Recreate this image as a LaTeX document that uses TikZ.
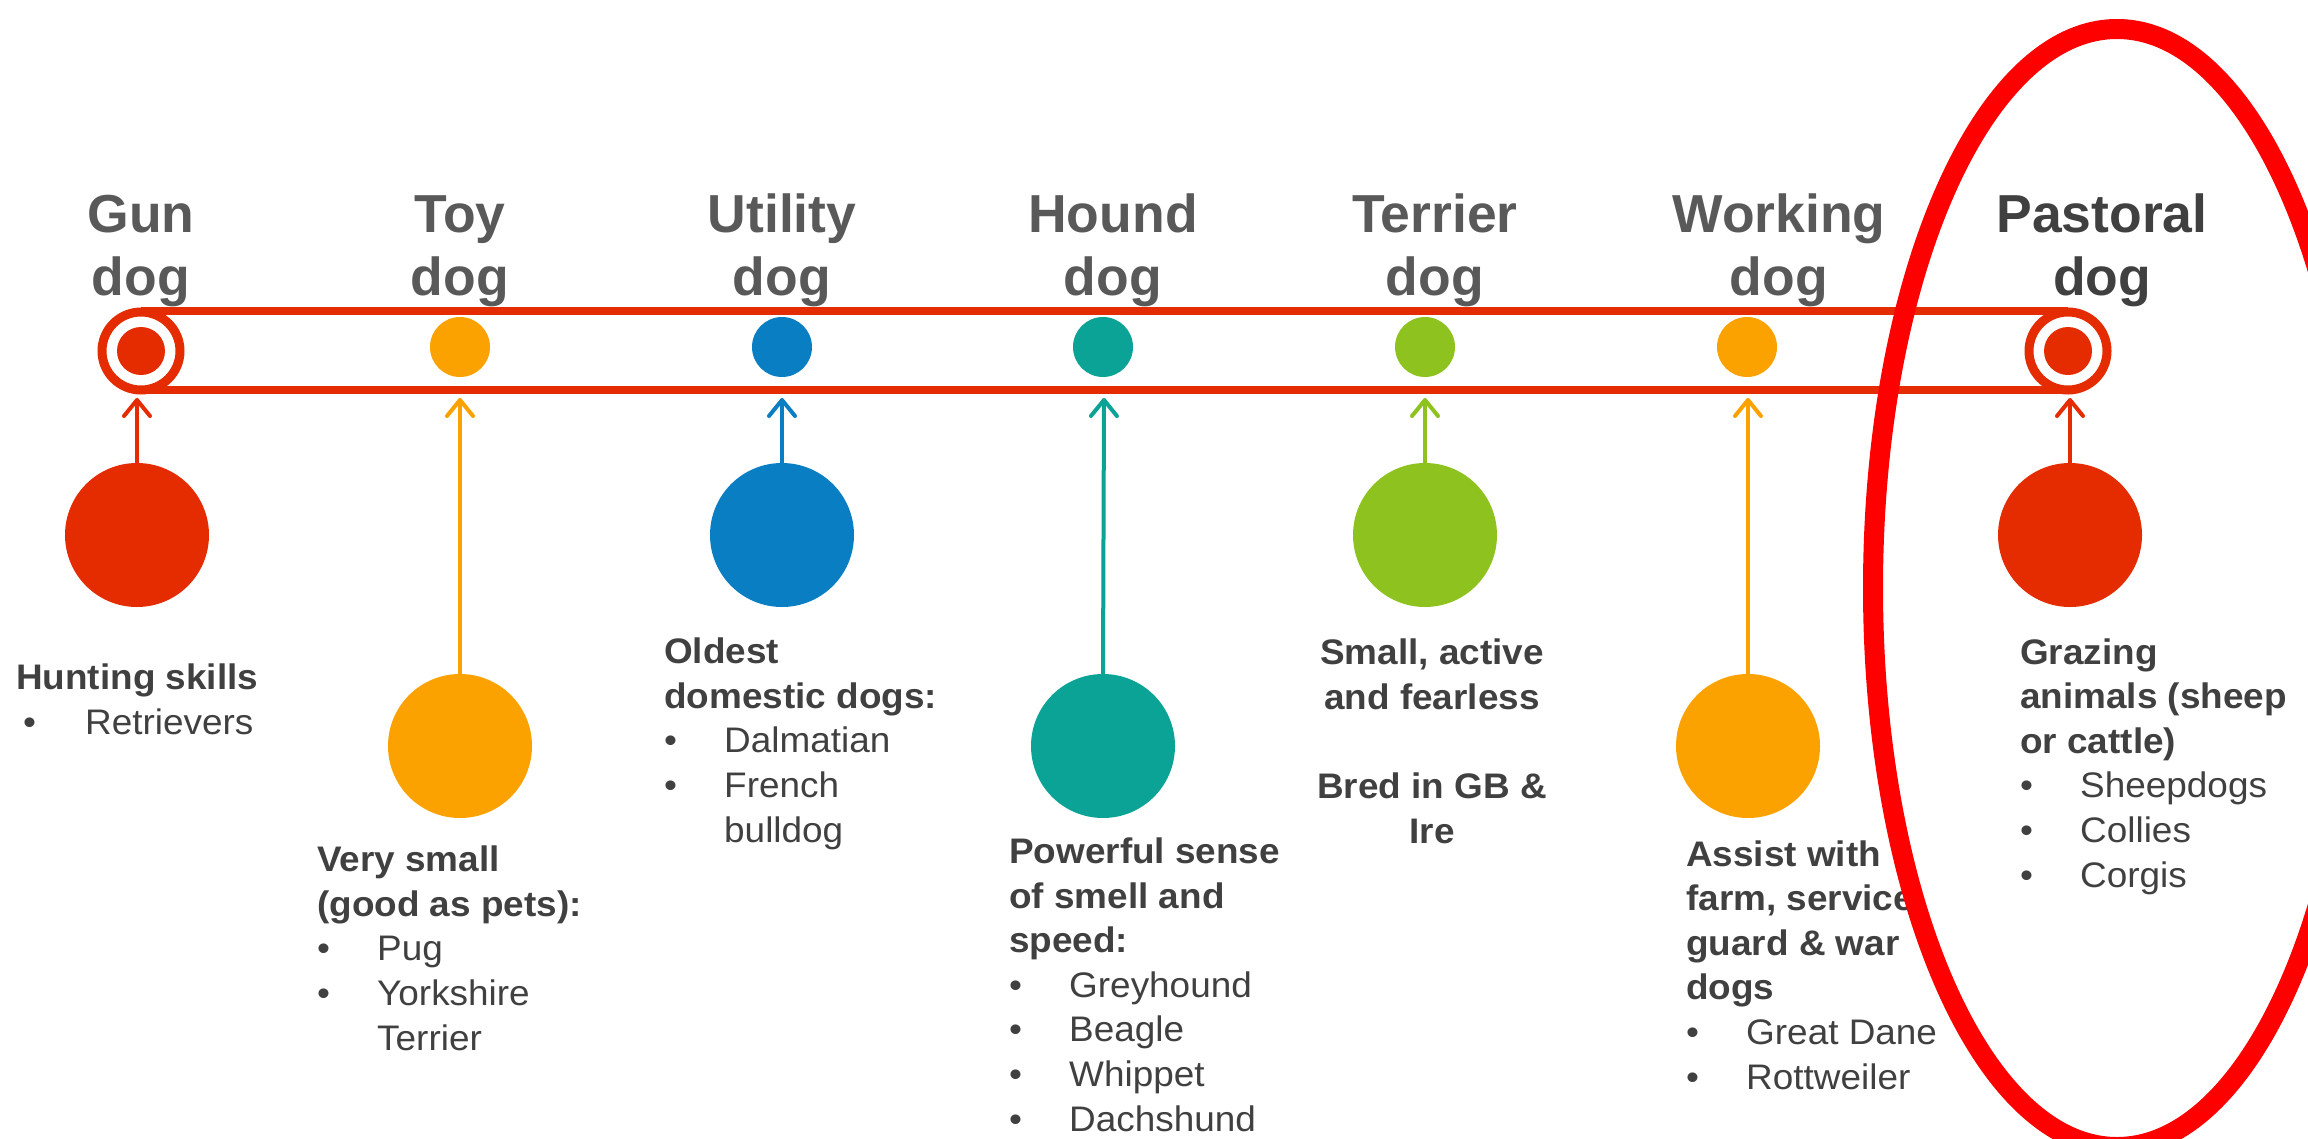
\documentclass[tikz,border=0pt]{standalone}
\usepackage{fontspec}
\setmainfont{Liberation Sans}
\newfontfamily\bodyfont[FakeStretch=1.04]{Liberation Sans}
\usetikzlibrary{arrows.meta}
\definecolor{cRed}{HTML}{E52B00}
\definecolor{cOrange}{HTML}{FBA100}
\definecolor{cBlue}{HTML}{0A7EC2}
\definecolor{cTeal}{HTML}{0AA396}
\definecolor{cGreen}{HTML}{8EC21F}
\definecolor{cHead}{HTML}{595959}
\definecolor{cText}{HTML}{404040}
\definecolor{cOval}{HTML}{FF0000}
\newcommand\bul[1]{\makebox[60pt][l]{•}#1}
\newcommand\cont[1]{\hspace*{60pt}#1}
\begin{document}
\begin{tikzpicture}[x=1pt,y=-1pt,
  head/.style={font=\fontsize{53.5}{63}\selectfont\bfseries, text=cHead, align=center, anchor=base, inner sep=0pt},
  body/.style={font=\bodyfont\fontsize{35.5}{44.6}\selectfont, text=cText, align=left, anchor=base west, inner sep=0pt},
  dot/.style={circle, fill=#1, minimum size=60pt, inner sep=0pt},
  big/.style={circle, fill=#1, minimum size=144pt, inner sep=0pt},
  ring/.style={circle, draw=cRed, line width=9pt, fill=white, minimum size=78pt, inner sep=0pt},
  core/.style={circle, fill=cRed, minimum size=48pt, inner sep=0pt},
  barline/.style={draw=cRed, line width=8pt},
  conn/.style={draw=#1, line width=4pt, line cap=round, -{Straight Barb[length=16pt,width=26pt,line cap=round,line join=round]}},
  oval/.style={draw=cOval, line width=20pt}
]
\useasboundingbox (0,0) rectangle (2308,1138);
\clip (0,0) rectangle (2308,1138);

% headings (anchor = baseline of the last line)
\node[head] (hGun) at (141,295) {Gun\\dog};
\node[head] (hToy) at (460,295) {Toy\\dog};
\node[head] (hUti) at (782,295) {Utility\\dog};
\node[head] (hHou) at (1113,295) {Hound\\dog};
\node[head] (hTer) at (1435,295) {Terrier\\dog};
\node[head] (hWor) at (1779,295) {Working\\dog};
\node[head, text=cText] (hPas) at (2102,295) {Pastoral\\dog};

% bar
\coordinate (barTL) at (141,311);
\coordinate (barTR) at (2068,311);
\coordinate (barBL) at (141,390);
\coordinate (barBR) at (2068,390);
\draw[barline] (barTL) -- (barTR);
\draw[barline] (barBL) -- (barBR);

% top dots
\node[ring] (rGun) at (141,351) {};
\node[core] (dGun) at (141,351) {};
\node[dot=cOrange] (dToy) at (460,347) {};
\node[dot=cBlue] (dUti) at (782,347) {};
\node[dot=cTeal] (dHou) at (1103,347) {};
\node[dot=cGreen] (dTer) at (1425,347) {};
\node[dot=cOrange] (dWor) at (1747,347) {};
\node[ring] (rPas) at (2068,351) {};
\node[core] (dPas) at (2068,351) {};

% big circles
\node[big=cRed] (bGun) at (137,535) {};
\node[big=cOrange] (bToy) at (460,746) {};
\node[big=cBlue] (bUti) at (782,535) {};
\node[big=cTeal] (bHou) at (1103,746) {};
\node[big=cGreen] (bTer) at (1425,535) {};
\node[big=cOrange] (bWor) at (1748,746) {};
\node[big=cRed] (bPas) at (2070,535) {};

% arrow tips
\coordinate (tGun) at (137,398);
\coordinate (tToy) at (460,398);
\coordinate (tUti) at (782,398);
\coordinate (tHou) at (1104,398);
\coordinate (tTer) at (1425,398);
\coordinate (tWor) at (1748,398);
\coordinate (tPas) at (2070,398);
\draw[conn=cRed] (bGun.north) -- (tGun);
\draw[conn=cOrange] (bToy.north) -- (tToy);
\draw[conn=cBlue] (bUti.north) -- (tUti);
\draw[conn=cTeal] (bHou.north) -- (tHou);
\draw[conn=cGreen] (bTer.north) -- (tTer);
\draw[conn=cOrange] (bWor.north) -- (tWor);
\draw[conn=cRed] (bPas.north) -- (tPas);

% texts (anchor = baseline of the last line)
\node[body] (xGun) at (16,734) {\textbf{Hunting skills}\\\hspace*{7pt}\makebox[62pt][l]{•}Retrievers};
\node[body] (xToy) at (317,1050) {\textbf{Very small}\\\textbf{(good as pets):}\\\bul{Pug}\\\bul{Yorkshire}\\\cont{Terrier}};
\node[body] (xUti) at (664,842) {\textbf{Oldest}\\\textbf{domestic dogs:}\\\bul{Dalmatian}\\\bul{French}\\\cont{bulldog}};
\node[body] (xHou) at (1009,1131) {\textbf{Powerful sense}\\\textbf{of smell and}\\\textbf{speed:}\\\bul{Greyhound}\\\bul{Beagle}\\\bul{Whippet}\\\bul{Dachshund}};
\node[body, align=center, anchor=base, font=\bodyfont\fontsize{35.5}{44.6}\selectfont\bfseries] (xTer) at (1432,843) {Small, active\\and fearless\\\mbox{}\\Bred in GB \&\\Ire};
\node[body] (xWor) at (1686,1089) {\textbf{Assist with}\\\textbf{farm, service}\\\textbf{guard \& war}\\\textbf{dogs}\\\bul{Great Dane}\\\bul{Rottweiler}};
\node[body] (xPas) at (2020,887) {\textbf{Grazing}\\\textbf{animals (sheep}\\\textbf{or cattle)}\\\bul{Sheepdogs}\\\bul{Collies}\\\bul{Corgis}};

% highlight oval
\draw[oval] (2117,588) ellipse [x radius=244, y radius=559];
\end{tikzpicture}
\end{document}
